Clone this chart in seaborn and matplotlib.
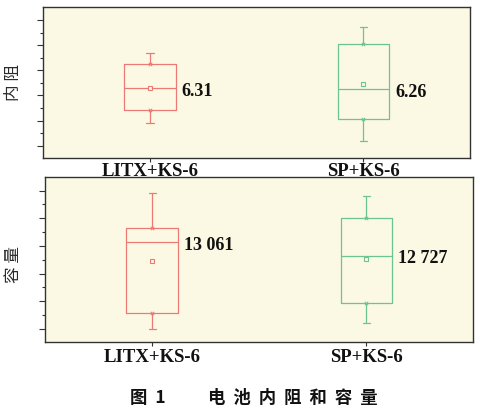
import numpy as np
import pandas as pd
import matplotlib
matplotlib.use("Agg")
import matplotlib.pyplot as plt
import seaborn as sns

groups = ["LITX+KS-6", "SP+KS-6"]
resist_litx = [4.56, 5.21, 6.31, 7.51, 8.06]
resist_sp = [3.68, 4.76, 6.26, 8.51, 9.36]
cap_litx = [10940, 11337, 13061, 13402, 14263]
cap_sp = [11101, 11581, 12727, 13646, 14190]
resist_labels = ["6.31", "6.26"]
cap_labels = ["13 061", "12 727"]

palette = ["#EC7A74", "#6CC48E"]
bg = "#FBF9E3"
dark = "#333333"

sns.set_style("ticks")
plt.rcParams["font.family"] = ["Liberation Serif", "Noto Sans CJK SC", "DejaVu Sans"]

fig = plt.figure(figsize=(4.83, 4.12), dpi=100)
ax1 = fig.add_axes([0.0897, 0.6158, 0.8834, 0.368])
ax2 = fig.add_axes([0.0932, 0.1692, 0.8868, 0.402])


def draw_panel(ax, a, b, labels, ylim, ticks, ylabel, label_xy, xpad):
    df = pd.DataFrame({"group": [groups[0]] * len(a) + [groups[1]] * len(b),
                       "value": a + b})
    sns.boxplot(data=df, x="group", y="value", hue="group", order=groups,
                hue_order=groups, palette=palette, fill=False, dodge=False,
                width=0.24, linewidth=0.9, whis=1.5, showmeans=True,
                capwidths=0.033,
                meanprops=dict(marker="s", markersize=3, markerfacecolor=bg,
                               markeredgewidth=0.8),
                legend=False, ax=ax)
    # colour the mean markers like their boxes
    means = [ln for ln in ax.lines if ln.get_marker() == "s"]
    for ln, c in zip(means, palette):
        ln.set_markeredgecolor(c)
    # small markers at the box edges
    for i, vals in enumerate([a, b]):
        q = np.percentile(vals, [25, 75])
        ax.scatter([i, i], q, marker="x", s=6, color=palette[i], linewidths=0.7, zorder=5)
        ax.annotate(labels[i], xy=(i + 0.12, np.median(vals)), xytext=(4.5, -2),
                    textcoords="offset points", ha="left", va="center",
                    fontsize=13, fontweight="bold", color="#111111",
                    family="Liberation Serif")
    ax.set_facecolor(bg)
    ax.set_xlim(-0.5, 1.5)
    ax.set_ylim(*ylim)
    ax.set_yticks(ticks[::2])
    ax.set_yticks(ticks[1::2], minor=True)
    ax.set_yticklabels([])
    ax.tick_params(axis="y", which="major", length=4, width=0.8, color=dark)
    ax.tick_params(axis="y", which="minor", length=2.4, width=0.8, color=dark)
    ax.tick_params(axis="x", length=3, width=0.8, color=dark, pad=xpad)
    for lab in ax.get_xticklabels():
        lab.set_fontsize(13.5)
        lab.set_fontweight("bold")
        lab.set_family("Liberation Serif")
        lab.set_color("#111111")
    ax.set_xlabel("")
    ax.set_ylabel(ylabel, family=["Noto Sans CJK SC"], fontsize=12, color="#2a2a2a",
                  va="center")
    ax.yaxis.set_label_coords(*label_xy)
    for sp in ax.spines.values():
        sp.set_visible(True)
        sp.set_color(dark)
        sp.set_linewidth(1.0)


draw_panel(ax1, resist_litx, resist_sp, resist_labels, (2.81, 10.39),
           np.linspace(3.44, 9.725, 11), "内 阻", (-0.071, 0.5), 0.6)
draw_panel(ax2, cap_litx, cap_sp, cap_labels, (10623, 14660),
           np.linspace(10947, 14319, 11), "容 量", (-0.074, 0.467), 2.0)

fig.text(0.269, 0.033, "图  1", family=["Noto Sans CJK SC"], fontsize=12.5,
         fontweight="bold", ha="left", va="center", color="#111111")
fig.text(0.431, 0.033, "电  池  内  阻  和  容  量", family=["Noto Sans CJK SC"],
         fontsize=12.5, fontweight="bold", ha="left", va="center", color="#111111")

fig.savefig("out.png", dpi=100)
